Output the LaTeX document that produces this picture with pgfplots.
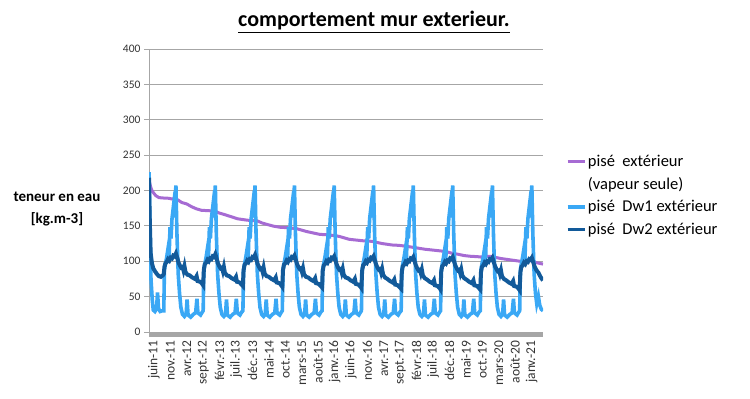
\documentclass[border=0pt]{standalone}
\usepackage{pgfplots}
\pgfplotsset{compat=1.18}
\usepackage{fontspec}
\setmainfont{Carlito}
\definecolor{cpurple}{HTML}{A66BD3}
\definecolor{clight}{HTML}{3AA8F5}
\definecolor{cdark}{HTML}{125A9A}
\definecolor{cgrid}{HTML}{A6A6A6}
\begin{document}
\begin{tikzpicture}
\useasboundingbox (0,0) rectangle (750pt,399pt);
\node[font=\fontsize{22}{26}\selectfont\bfseries] at (374pt,377pt) {\underline{comportement mur exterieur.}};
\node[font=\fontsize{15}{22}\selectfont\bfseries, align=center] at (57pt,190pt) {teneur en eau\\{[}kg.m-3{]}};
\begin{axis}[
  at={(149pt,67pt)}, anchor=south west,
  width=394pt, height=283pt, scale only axis,
  xmin=0, xmax=120, ymin=0, ymax=400,
  axis x line=bottom, axis y line=left,
  axis line style={-},
  x axis line style={line width=4.5pt, cgrid, yshift=-2.25pt},
  y axis line style={line width=0.9pt, cgrid},
  ytick={0,50,...,400},
  xtick={0,5,...,115},
  xticklabels={juin-11, nov.-11, avr.-12, sept.-12, févr.-13, juil.-13, déc.-13, mai-14, oct.-14, mars-15, août-15, janv.-16, juin-16, nov.-16, avr.-17, sept.-17, févr.-18, juil.-18, déc.-18, mai-19, oct.-19, mars-20, août-20, janv.-21},
  xtick style={draw=none},
  ytick style={cgrid, line width=0.9pt},
  tick align=outside, major tick length=5pt,
  ymajorgrids, grid style={cgrid, line width=0.9pt},
  /pgf/number format/assume math mode=true,
  yticklabel style={font=\fontsize{11.5}{13}\selectfont, text=black!80},
  xticklabel style={font=\fontsize{13.5}{15}\selectfont, text=black!80, rotate=90, anchor=east, yshift=-5pt},
  legend style={at={(1.05,0.638)}, anchor=north west, draw=none, fill=none,
    font=\fontsize{16.5}{19}\selectfont, row sep=6.5pt,
    nodes={inner sep=1.5pt}},
  legend cell align=left,
  legend image code/.code={\draw[#1] (0pt,0pt) -- (17pt,0pt);},
]
\addplot[forget plot, cpurple, line width=3pt] coordinates {
(0,215) (0.5,205) (1,199) (2,193) (3,190) (4,189.5) (6,189) (7,188) (8,189) (9,186) (10,183) (11.5,181) (13,177) (14.5,174) (16,172) (18,171.5) (20,171) (21.5,168) (23,166) (25,163) (27,160) (28.5,159) (30,158) (32,157.5) (33,157) (34.5,154) (36,152) (38,149.5) (40,148) (42,147.5) (43,147) (45,146) (46.5,144) (48,142) (50,140) (52,138) (54,137.5) (55,137) (57,136) (58,135) (59.5,133) (61,131) (63,130) (65,129) (67,128.5) (68,128) (70,126) (71,125) (72.5,124) (74,123) (76,122.5) (77,122) (78.5,121) (80,120) (82,118.5) (84,117) (86,116) (88,115) (90,114) (91,113) (92.5,111) (94,110) (96,108) (98,107) (100,106.5) (101,106) (103,107) (104,107) (105.5,105.5) (107,104) (108.5,103) (110,102) (111.5,101) (113,100) (114.5,100.5) (116,101) (117,100) (118,98) (119,97) (120,96)
};
\addplot[forget plot, clight, line width=3.6pt] coordinates {
(0,226) (0.3,150) (0.6,75) (1.0,45) (1.3,31) (1.8,29) (2.3,33) (2.6,56) (2.9,33) (3.4,29) (4.0,30)
(4.5,30) (4.7,88) (5.0,96) (5.4,106) (5.8,118) (6.1,102) (6.4,148) (6.7,132) (7.0,160) (7.4,176) (7.7,162) (8.0,192) (8.2,207) (8.5,140) (8.9,82) (9.3,55) (9.7,35) (10.2,25) (10.8,22) (11.3,25) (11.6,46) (11.9,24) (12.7,21) (13.5,25) (14.2,27) (14.6,47) (14.9,27) (15.7,24) (16.2,28)
(16.5,30) (16.7,88) (17.0,96) (17.4,106) (17.8,118) (18.1,102) (18.4,148) (18.7,132) (19.0,160) (19.4,176) (19.7,162) (20.0,192) (20.2,207) (20.5,140) (20.9,82) (21.3,55) (21.7,35) (22.2,25) (22.8,22) (23.3,25) (23.6,46) (23.9,24) (24.7,21) (25.5,25) (26.2,27) (26.6,47) (26.9,27) (27.7,24) (28.2,28)
(28.6,30) (28.8,88) (29.1,96) (29.5,106) (29.9,118) (30.2,102) (30.5,148) (30.8,132) (31.1,160) (31.5,176) (31.8,162) (32.1,192) (32.3,207) (32.6,140) (33.0,82) (33.4,55) (33.8,35) (34.3,25) (34.9,22) (35.4,25) (35.7,46) (36.0,24) (36.8,21) (37.6,25) (38.3,27) (38.7,47) (39.0,27) (39.8,24) (40.3,28)
(40.6,30) (40.8,88) (41.1,96) (41.5,106) (41.9,118) (42.2,102) (42.5,148) (42.8,132) (43.1,160) (43.5,176) (43.8,162) (44.1,192) (44.3,207) (44.6,140) (45.0,82) (45.4,55) (45.8,35) (46.3,25) (46.9,22) (47.4,25) (47.7,46) (48.0,24) (48.8,21) (49.6,25) (50.3,27) (50.7,47) (51.0,27) (51.8,24) (52.3,28)
(52.7,30) (52.9,88) (53.2,96) (53.6,106) (54.0,118) (54.3,102) (54.6,148) (54.9,132) (55.2,160) (55.6,176) (55.9,162) (56.2,192) (56.4,207) (56.7,140) (57.1,82) (57.5,55) (57.9,35) (58.4,25) (59.0,22) (59.5,25) (59.8,46) (60.1,24) (60.9,21) (61.7,25) (62.4,27) (62.8,47) (63.1,27) (63.9,24) (64.4,28)
(64.7,30) (64.9,88) (65.2,96) (65.6,106) (66.0,118) (66.3,102) (66.6,148) (66.9,132) (67.2,160) (67.6,176) (67.9,162) (68.2,192) (68.4,207) (68.7,140) (69.1,82) (69.5,55) (69.9,35) (70.4,25) (71.0,22) (71.5,25) (71.8,46) (72.1,24) (72.9,21) (73.7,25) (74.4,27) (74.8,47) (75.1,27) (75.9,24) (76.4,28)
(76.8,30) (77.0,88) (77.3,96) (77.7,106) (78.1,118) (78.4,102) (78.7,148) (79.0,132) (79.3,160) (79.7,176) (80.0,162) (80.3,192) (80.5,207) (80.8,140) (81.2,82) (81.6,55) (82.0,35) (82.5,25) (83.1,22) (83.6,25) (83.9,46) (84.2,24) (85.0,21) (85.8,25) (86.5,27) (86.9,47) (87.2,27) (88.0,24) (88.5,28)
(88.8,30) (89.0,88) (89.3,96) (89.7,106) (90.1,118) (90.4,102) (90.7,148) (91.0,132) (91.3,160) (91.7,176) (92.0,162) (92.3,192) (92.5,207) (92.8,140) (93.2,82) (93.6,55) (94.0,35) (94.5,25) (95.1,22) (95.6,25) (95.9,46) (96.2,24) (97.0,21) (97.8,25) (98.5,27) (98.9,47) (99.2,27) (100.0,24) (100.5,28)
(100.9,30) (101.1,88) (101.4,96) (101.8,106) (102.2,118) (102.5,102) (102.8,148) (103.1,132) (103.4,160) (103.8,176) (104.1,162) (104.4,192) (104.6,207) (104.9,140) (105.3,82) (105.7,55) (106.1,35) (106.6,25) (107.2,22) (107.7,25) (108.0,46) (108.3,24) (109.1,21) (109.9,25) (110.6,27) (111.0,47) (111.3,27) (112.1,24) (112.6,28)
(112.9,30) (113.1,88) (113.4,96) (113.8,106) (114.2,118) (114.5,102) (114.8,148) (115.1,132) (115.4,160) (115.8,176) (116.1,162) (116.4,192) (116.6,207) (116.9,140) (117.3,82) (117.7,55) (118.1,40) (118.6,50) (119.0,38) (119.5,32) (120.0,30)
};
\addplot[forget plot, cdark, line width=4pt] coordinates {
(0,218) (0.2,165) (0.5,112) (0.9,97) (1.3,90) (1.8,86) (2.4,82) (3.0,79) (3.6,78) (4.2,80) (4.5,82) (4.7,92) (5.0,97) (5.4,99) (5.8,103) (6.2,101) (6.6,105) (7.0,104) (7.4,108) (7.8,107) (8.2,111) (8.6,105) (9.0,98) (9.4,94) (9.8,91) (10.2,92) (10.5,87) (10.8,93) (11.1,85) (11.7,81) (12.4,80) (13.2,77) (14.0,75) (14.5,79) (14.8,72) (15.6,71) (16.2,68)
(16.5,66) (16.7,88) (17.0,96) (17.4,98) (17.8,102) (18.2,100) (18.6,104) (19.0,103) (19.4,107) (19.8,106) (20.2,110) (20.6,104) (21.0,97) (21.4,93) (21.8,90) (22.2,91) (22.5,86) (22.8,92) (23.1,84) (23.7,80) (24.4,79) (25.2,76) (26.0,74) (26.5,78) (26.8,71) (27.6,70) (28.2,67)
(28.6,65) (28.8,87) (29.1,95) (29.5,97) (29.9,101) (30.3,99) (30.7,103) (31.1,102) (31.5,106) (31.9,105) (32.3,109) (32.7,103) (33.1,96) (33.5,92) (33.9,89) (34.3,90) (34.6,85) (34.9,91) (35.2,83) (35.8,79) (36.5,78) (37.3,75) (38.1,73) (38.6,77) (38.9,70) (39.7,69) (40.3,66)
(40.6,64) (40.8,87) (41.1,95) (41.5,97) (41.9,101) (42.3,99) (42.7,103) (43.1,102) (43.5,106) (43.9,105) (44.3,108) (44.7,102) (45.1,96) (45.5,92) (45.9,89) (46.3,90) (46.6,85) (46.9,90) (47.2,82) (47.8,78) (48.5,77) (49.3,74) (50.1,72) (50.6,76) (50.9,69) (51.7,68) (52.3,65)
(52.7,63) (52.9,86) (53.2,94) (53.6,96) (54.0,100) (54.4,98) (54.8,102) (55.2,101) (55.6,105) (56.0,104) (56.4,107) (56.8,101) (57.2,95) (57.6,91) (58.0,88) (58.4,89) (58.7,84) (59.0,89) (59.3,81) (59.9,77) (60.6,76) (61.4,73) (62.2,71) (62.7,75) (63.0,68) (63.8,67) (64.4,64)
(64.7,62) (64.9,86) (65.2,94) (65.6,96) (66.0,100) (66.4,98) (66.8,102) (67.2,101) (67.6,105) (68.0,104) (68.4,107) (68.8,101) (69.2,95) (69.6,91) (70.0,88) (70.4,89) (70.7,84) (71.0,89) (71.3,81) (71.9,77) (72.6,75) (73.4,72) (74.2,70) (74.7,74) (75.0,67) (75.8,66) (76.4,63)
(76.8,61) (77.0,85) (77.3,93) (77.7,95) (78.1,99) (78.5,97) (78.9,101) (79.3,100) (79.7,104) (80.1,103) (80.5,106) (80.9,100) (81.3,94) (81.7,90) (82.1,87) (82.5,88) (82.8,83) (83.1,88) (83.4,80) (84.0,76) (84.7,74) (85.5,71) (86.3,69) (86.8,73) (87.1,66) (87.9,65) (88.5,62)
(88.8,60) (89.0,85) (89.3,93) (89.7,95) (90.1,99) (90.5,97) (90.9,101) (91.3,100) (91.7,104) (92.1,103) (92.5,106) (92.9,100) (93.3,94) (93.7,90) (94.1,87) (94.5,88) (94.8,83) (95.1,88) (95.4,80) (96.0,76) (96.7,74) (97.5,71) (98.3,69) (98.8,73) (99.1,66) (99.9,65) (100.5,62)
(100.9,60) (101.1,84) (101.4,92) (101.8,94) (102.2,98) (102.6,96) (103.0,100) (103.4,99) (103.8,103) (104.2,102) (104.6,105) (105.0,99) (105.4,93) (105.8,89) (106.2,86) (106.6,87) (106.9,82) (107.2,87) (107.5,79) (108.1,75) (108.8,73) (109.6,70) (110.4,68) (110.9,72) (111.2,65) (112.0,64) (112.6,61)
(112.9,59) (113.1,84) (113.4,92) (113.8,94) (114.2,98) (114.6,96) (115.0,100) (115.4,99) (115.8,103) (116.2,102) (116.6,105) (117.0,99) (117.4,93) (117.8,89) (118.2,86) (118.6,84) (119.0,80) (119.5,76) (120.0,73)
};
\addlegendimage{cpurple, line width=3.5pt}
\addlegendentry{pisé~~extérieur}
\addlegendimage{empty legend}
\addlegendentry{(vapeur seule)}
\addlegendimage{clight, line width=3.5pt}
\addlegendentry{pisé~~Dw1 extérieur}
\addlegendimage{cdark, line width=3.5pt}
\addlegendentry{pisé~~Dw2 extérieur}
\end{axis}
\end{tikzpicture}
\end{document}
